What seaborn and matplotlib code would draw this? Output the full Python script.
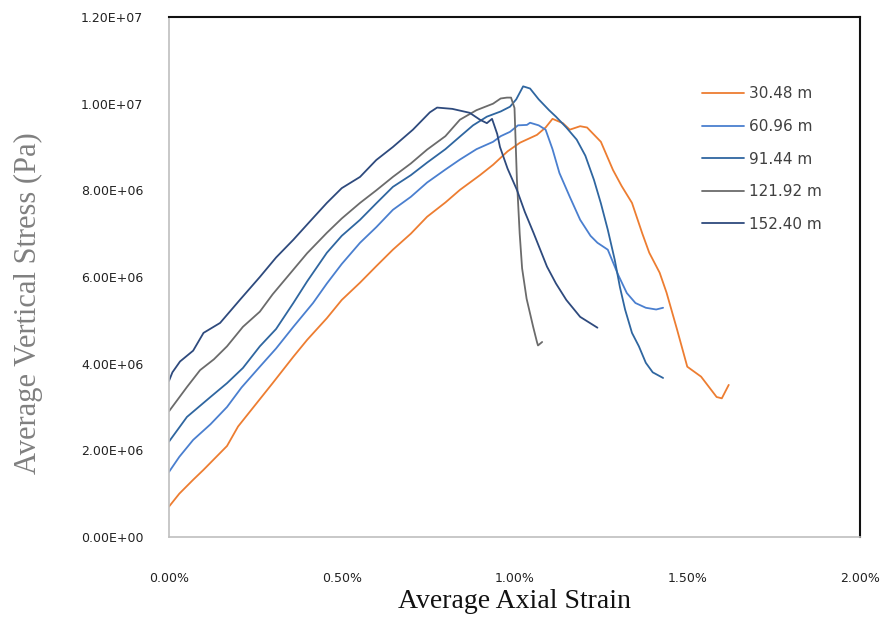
import seaborn as sns
import numpy as np
import pandas as pd
import matplotlib
matplotlib.use('Agg')
import matplotlib.pyplot as plt
from matplotlib.ticker import PercentFormatter, FuncFormatter

# strain in %, stress in MPa (x1e6 Pa)
strain_30 = [0, 0.03, 0.07, 0.10, 0.168, 0.20, 0.26, 0.30, 0.36, 0.40, 0.457, 0.50, 0.553, 0.60, 0.648,
             0.70, 0.747, 0.80, 0.842, 0.90, 0.938, 0.98, 1.016, 1.065, 1.09, 1.11, 1.14, 1.16, 1.19, 1.21,
             1.25, 1.285, 1.31, 1.34, 1.37, 1.39, 1.42, 1.44, 1.47, 1.50, 1.54, 1.585, 1.60, 1.62]
stress_30 = [0.70, 1.0, 1.32, 1.55, 2.10, 2.55, 3.15, 3.55, 4.16, 4.55, 5.05, 5.47, 5.87, 6.25, 6.63,
             7.0, 7.39, 7.72, 8.01, 8.35, 8.59, 8.90, 9.10, 9.28, 9.45, 9.65, 9.55, 9.40, 9.48, 9.45,
             9.12, 8.47, 8.10, 7.71, 7.0, 6.56, 6.10, 5.64, 4.80, 3.93, 3.70, 3.23, 3.20, 3.51]

strain_61 = [0, 0.03, 0.07, 0.12, 0.168, 0.21, 0.263, 0.31, 0.36, 0.417, 0.457, 0.50, 0.553, 0.60, 0.648,
             0.70, 0.747, 0.80, 0.842, 0.89, 0.938, 0.96, 0.987, 1.01, 1.036, 1.045, 1.07, 1.09, 1.11, 1.13,
             1.16, 1.19, 1.22, 1.24, 1.27, 1.30, 1.325, 1.35, 1.38, 1.41, 1.43]
stress_61 = [1.50, 1.85, 2.24, 2.60, 3.0, 3.45, 3.93, 4.35, 4.85, 5.40, 5.85, 6.30, 6.79, 7.15, 7.55,
             7.85, 8.18, 8.48, 8.71, 8.95, 9.12, 9.25, 9.35, 9.50, 9.51, 9.56, 9.50, 9.40, 8.95, 8.40,
             7.85, 7.32, 6.95, 6.79, 6.63, 6.05, 5.63, 5.40, 5.29, 5.25, 5.29]

strain_91 = [0, 0.052, 0.12, 0.168, 0.214, 0.263, 0.31, 0.36, 0.40, 0.457, 0.50, 0.553, 0.60, 0.648, 0.70,
             0.747, 0.80, 0.842, 0.88, 0.92, 0.96, 0.987, 1.005, 1.025, 1.045, 1.07, 1.10, 1.12, 1.15, 1.18,
             1.205, 1.23, 1.25, 1.27, 1.29, 1.305, 1.32, 1.34, 1.36, 1.38, 1.40, 1.43]
stress_91 = [2.20, 2.77, 3.23, 3.55, 3.90, 4.40, 4.80, 5.40, 5.90, 6.56, 6.95, 7.32, 7.70, 8.08, 8.35,
             8.64, 8.95, 9.24, 9.50, 9.70, 9.82, 9.93, 10.1, 10.4, 10.35, 10.1, 9.85, 9.70, 9.45, 9.17,
             8.80, 8.24, 7.70, 7.09, 6.40, 5.77, 5.25, 4.71, 4.40, 4.02, 3.80, 3.67]

strain_122 = [0, 0.052, 0.09, 0.13, 0.168, 0.214, 0.263, 0.30, 0.36, 0.40, 0.457, 0.50, 0.553, 0.60, 0.648,
              0.70, 0.747, 0.80, 0.842, 0.89, 0.938, 0.96, 0.978, 0.99, 1.0, 1.007, 1.015, 1.022, 1.035,
              1.054, 1.065, 1.068, 1.08]
stress_122 = [2.90, 3.46, 3.85, 4.10, 4.40, 4.85, 5.20, 5.60, 6.17, 6.55, 7.02, 7.35, 7.71, 8.0, 8.31,
              8.62, 8.94, 9.25, 9.63, 9.85, 10.0, 10.12, 10.14, 10.14, 9.90, 8.24, 7.0, 6.20, 5.50,
              4.85, 4.50, 4.42, 4.50]

strain_152 = [0, 0.01, 0.032, 0.07, 0.10, 0.148, 0.205, 0.263, 0.31, 0.36, 0.41, 0.457, 0.50, 0.553, 0.60,
              0.648, 0.706, 0.755, 0.776, 0.82, 0.87, 0.90, 0.92, 0.935, 0.95, 0.958, 0.98, 1.007, 1.03,
              1.055, 1.094, 1.12, 1.15, 1.19, 1.24]
stress_152 = [3.60, 3.80, 4.05, 4.30, 4.71, 4.94, 5.47, 6.0, 6.45, 6.86, 7.30, 7.71, 8.05, 8.31, 8.70,
              9.0, 9.40, 9.80, 9.91, 9.88, 9.79, 9.63, 9.55, 9.65, 9.30, 9.0, 8.5, 8.01, 7.5,
              7.02, 6.24, 5.85, 5.47, 5.08, 4.83]

depths = ['30.48 m', '60.96 m', '91.44 m', '121.92 m', '152.40 m']
colors = ['#ED7D31', '#4A7FCF', '#2F66A0', '#6B6B6B', '#2E4A7D']

strains = [strain_30, strain_61, strain_91, strain_122, strain_152]
stresses = [stress_30, stress_61, stress_91, stress_122, stress_152]
frames = []
for name, sx, sy in zip(depths, strains, stresses):
    frames.append(pd.DataFrame({'strain': sx, 'stress': np.array(sy) * 1e6, 'depth': name}))
df = pd.concat(frames, ignore_index=True)

sns.set_style('white')
fig = plt.figure(figsize=(8.86, 6.21), dpi=100)
ax = fig.add_axes([0.1907, 0.1353, 0.78, 0.8373])

sns.lineplot(data=df, x='strain', y='stress', hue='depth', hue_order=depths,
             palette=colors, sort=False, estimator=None, linewidth=1.3, ax=ax)

ax.set_xlim(0, 2.0)
ax.set_ylim(0, 1.2e7)
ax.set_xticks([0, 0.5, 1.0, 1.5, 2.0])
ax.set_yticks(np.arange(0, 1.21e7, 2e6))
ax.xaxis.set_major_formatter(PercentFormatter(xmax=100, decimals=2))
ax.yaxis.set_major_formatter(FuncFormatter(lambda v, p: '%.2E' % v))

for s in ['left', 'bottom']:
    ax.spines[s].set_color('#bfbfbf')
    ax.spines[s].set_linewidth(1.2)
for s in ['top', 'right']:
    ax.spines[s].set_color('#111111')
    ax.spines[s].set_linewidth(1.5)

ax.tick_params(axis='both', which='major', direction='inout', length=9, width=1,
               color='#bfbfbf', labelsize=9, labelcolor='#222222')
ax.tick_params(axis='x', pad=21)
ax.tick_params(axis='y', pad=14)

ax.set_xlabel('Average Axial Strain', family='Liberation Serif', fontsize=20, color='#111111')
ax.set_ylabel('Average Vertical Stress (Pa)', family='Liberation Serif', fontsize=22, color='#808080')
ax.xaxis.set_label_coords(0.5, -0.101)
ax.yaxis.set_label_coords(-0.182, 0.45)

leg = ax.legend(loc='upper left', bbox_to_anchor=(0.752, 0.893), frameon=False, fontsize=11,
                handlelength=2.7, labelspacing=1.15, handletextpad=0.35)
for t in leg.get_texts():
    t.set_color('#404040')

fig.savefig('out.png', dpi=100)
